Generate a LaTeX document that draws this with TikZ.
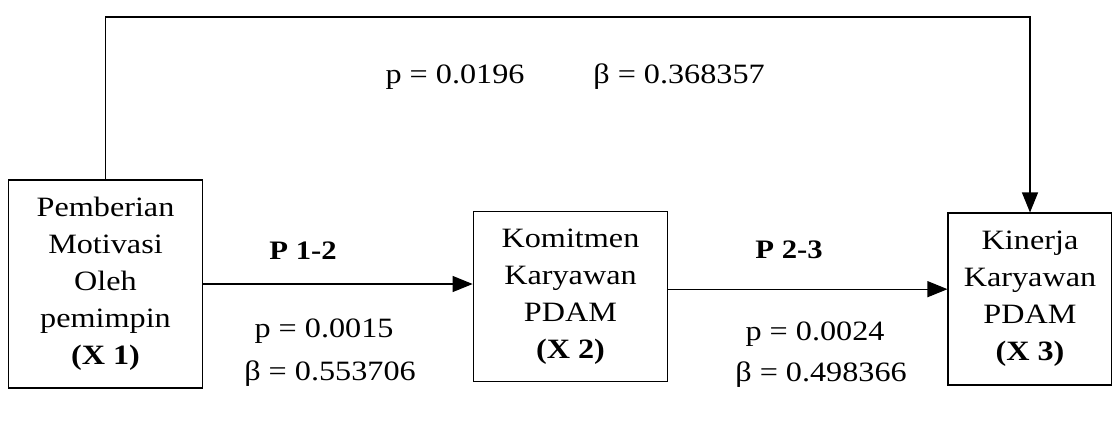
\documentclass[tikz,border=0pt]{standalone}
\usepackage{fontspec}
\setmainfont[FakeStretch=1.15]{Liberation Serif}
\usetikzlibrary{arrows.meta,calc,positioning}

\begin{document}
\begin{tikzpicture}[
  x=0.75pt,y=-0.75pt,
  box/.style={draw,line width=0.8pt,align=center,inner sep=0pt,
    font=\fontsize{21}{27.75}\selectfont},
  arrow/.style={-{Triangle[length=15pt,width=12pt]},line width=0.8pt},
  lbl/.style={font=\fontsize{21}{25}\selectfont,inner sep=0pt},
  path/.style={font=\fontsize{20}{25}\selectfont\bfseries,inner sep=0pt}
]
\useasboundingbox (0,0) rectangle (1112,429);
% variabel
\node[box,minimum width=146pt,minimum height=156pt] (x1) at (105.5,284)
  {Pemberian\\Motivasi\\Oleh\\pemimpin\\\textbf{(X 1)}};
\node[box,minimum width=146pt,minimum height=128pt] (x2) at (570.5,296.5)
  {Komitmen\\Karyawan\\PDAM\\\textbf{(X 2)}};
\node[box,minimum width=123pt,minimum height=129pt] (x3) at (1030,299)
  {Kinerja\\Karyawan\\PDAM\\\textbf{(X 3)}};
\coordinate (top) at (570,17);
% jalur
\draw[arrow] (x1.east) -- (x1.east -| x2.west);
\draw[arrow] ([yshift=5.5pt]x2.east) -- ([yshift=5.5pt]x2.east -| x3.west);
\draw[arrow] (x1.north) -- (x1.north |- top) -- (top -| x3.north) -- (x3.north);
% koefisien
\node[path] (p12) at (303,251) {P 1-2};
\node[path] (p23) at (789,250) {P 2-3};
\node[lbl] (p1) at (324,331) {p = 0.0015};
\node[lbl] (b1) at (330,374) {β = 0.553706};
\node[lbl] (p2) at (815,334) {p = 0.0024};
\node[lbl] (b2) at (821,375) {β = 0.498366};
\node[lbl] (p3) at (455,77) {p = 0.0196};
\node[lbl] (b3) at (679,77) {β = 0.368357};
\end{tikzpicture}
\end{document}
